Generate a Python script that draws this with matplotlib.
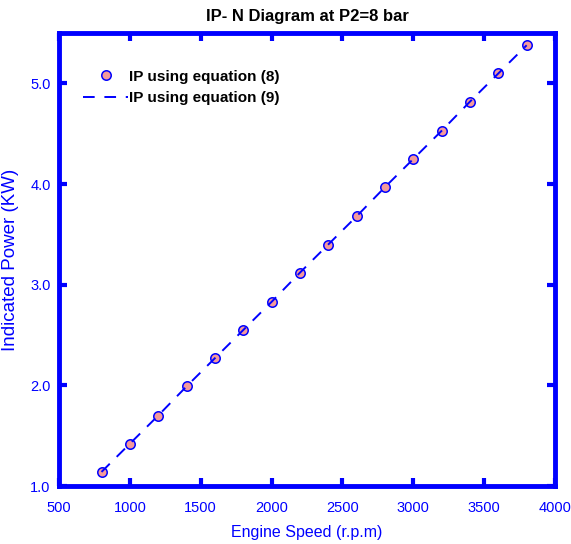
import matplotlib.pyplot as plt

plt.rcParams['font.family'] = ['Liberation Sans', 'DejaVu Sans']

# engine speed (rpm) and indicated power (kW)
speed = [800, 1000, 1200, 1400, 1600, 1800, 2000, 2200,
         2400, 2600, 2800, 3000, 3200, 3400, 3600, 3800]
ip_eq8 = [1.14, 1.42, 1.70, 1.99, 2.27, 2.55, 2.83, 3.12,
          3.40, 3.68, 3.97, 4.25, 4.53, 4.82, 5.10, 5.38]
ip_eq9 = [1.14, 1.42, 1.70, 1.99, 2.27, 2.55, 2.83, 3.12,
          3.40, 3.68, 3.97, 4.25, 4.53, 4.82, 5.10, 5.38]

blue = '#0000ff'

fig = plt.figure(figsize=(5.71, 5.44), dpi=100)
ax = fig.add_axes([0.1033, 0.1066, 0.8687, 0.8324])

ax.plot(speed, ip_eq8, 'o', ms=6.8, mfc='#f49a9a', mec=blue, mew=1.1,
        label='IP using equation (8)', zorder=2)
ax.plot(speed, ip_eq9, '--', color=blue, lw=1.4, dashes=(6, 5),
        label='IP using equation (9)', zorder=3)

ax.set_xlim(500, 4000)
ax.set_ylim(1.0, 5.5)
ax.set_xticks([500, 1000, 1500, 2000, 2500, 3000, 3500, 4000])
ax.set_yticks([1.0, 2.0, 3.0, 4.0, 5.0])
ax.set_yticklabels(['1.0', '2.0', '3.0', '4.0', '5.0'])

for s in ax.spines.values():
    s.set_color(blue)
    s.set_linewidth(3.5)
ax.tick_params(direction='in', length=6, width=3, color=blue,
               labelcolor=blue, labelsize=10.5, top=True, right=True)
ax.tick_params(axis='x', pad=11)
ax.tick_params(axis='y', pad=6)

ax.set_title('IP- N Diagram at P2=8 bar', fontsize=12, fontweight='bold', pad=9)
ax.set_xlabel('Engine Speed (r.p.m)', color=blue, fontsize=11.5, labelpad=7)
ax.set_ylabel('Indicated Power (KW)', color=blue, fontsize=13.5, labelpad=8)

leg = ax.legend(loc='upper left', bbox_to_anchor=(0.02, 0.95), frameon=False,
                handlelength=3.0, handletextpad=0.05, labelspacing=0.5,
                prop={'weight': 'bold', 'size': 11})

fig.savefig('out.png', dpi=100)
